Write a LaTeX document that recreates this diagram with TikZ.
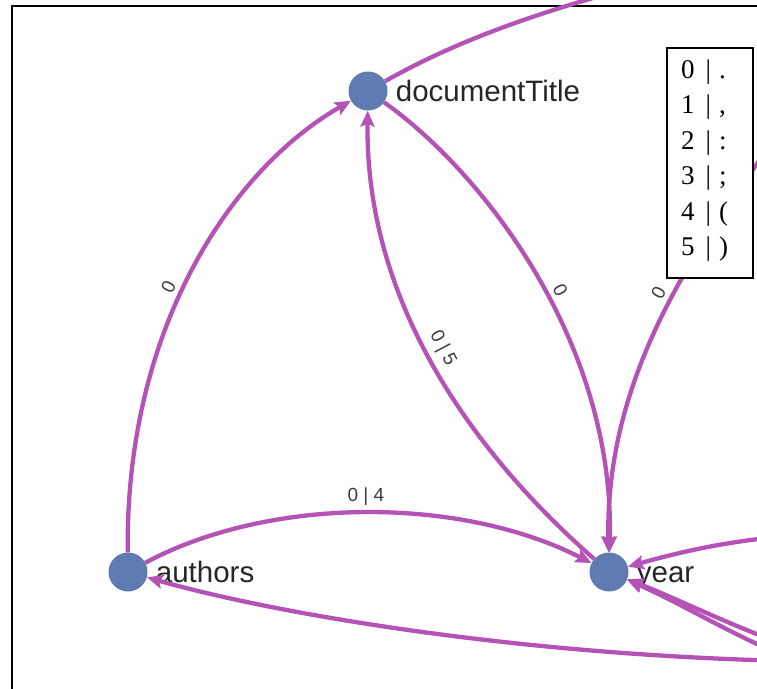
\documentclass[tikz,border=0pt]{standalone}
\usepackage{fontspec}
\setmainfont{Liberation Sans}
\newfontfamily\legendfont{Liberation Serif}
\usetikzlibrary{positioning,arrows.meta}

\definecolor{nodeblue}{RGB}{96,122,178}
\definecolor{linkpurple}{RGB}{180,82,182}
\definecolor{labelgray}{RGB}{60,60,60}

\tikzset{
  entity/.style={circle, fill=nodeblue, minimum size=39pt, inner sep=0pt},
  entitytext/.style={right=8pt of #1, inner sep=0pt, text height=21pt, text depth=0pt,
                     font=\fontsize{29.5}{30}\selectfont, text=black!85},
  link/.style={draw=linkpurple, line width=4.3pt, -{Stealth[length=16pt,width=14pt,inset=3pt]}},
  plainlink/.style={draw=linkpurple, line width=4.3pt},
  linklabel/.style={sloped, above, inner sep=5pt, font=\fontsize{19}{19}\selectfont, text=labelgray},
  legendbox/.style={draw, fill=white, line width=1.5pt, minimum width=86pt, minimum height=230pt},
  legendrow/.style={anchor=base west, inner sep=0pt, font=\legendfont\fontsize{27}{27}\selectfont},
}

\begin{document}
\begin{tikzpicture}[x=1pt, y=-1pt]
\useasboundingbox (0,0) rectangle (757,688);
\clip (0,0) rectangle (757,688);
\draw[line width=2pt] (12,700) -- (12,6) -- (770,6);

\node    (documentTitle)    [entity]    at (368,91)     {};
\node    (authors)          [entity]    at (128,572)    {};
\node    (year)             [entity]    at (609,572)    {};

\node    (documentTitleText)    [entitytext=documentTitle]    {documentTitle};
\node    (authorsText)          [entitytext=authors]          {authors};
\node    (yearText)             [entitytext=year]             {year};

% links that leave the picture end here
\coordinate    (outTop)       at (660,-20);
\coordinate    (outRight)     at (790,120);
\coordinate    (outMid)       at (800,535);
\coordinate    (outLow1)      at (800,650);
\coordinate    (outLow2)      at (800,662);
\coordinate    (outBottom)    at (790,661);

\draw[link]    (authors) .. controls (125,330) and (230,170) .. (documentTitle) node[linklabel, pos=0.45] {0};
\draw[link]    (documentTitle) .. controls (480,170) and (615,340) .. (year) node[linklabel, pos=0.55] {0};
\draw[link]    (year) .. controls (470,450) and (365,300) .. (documentTitle) node[linklabel, pos=0.52] {0 | 5};
\draw[link]    (authors) .. controls (270,496) and (460,496) .. (year) node[linklabel, pos=0.5] {0 | 4};
\draw[plainlink]    (documentTitle) .. controls (440,50) and (520,15) .. (outTop);
\draw[link]    (outRight) .. controls (690,250) and (605,380) .. (year) node[linklabel, pos=0.45] {0};
\draw[link]    (outMid) .. controls (730,540) and (680,552) .. (year);
\draw[link]    (outLow1) .. controls (740,630) and (680,600) .. (year);
\draw[link]    (outLow2) .. controls (740,640) and (685,605) .. (year);
\draw[link]    (outBottom) .. controls (520,655) and (280,615) .. (authors);

% legend
\node    (legend)    [legendbox]    at (710,163)    {};
\foreach \k/\sym in {0/., 1/{,}, 2/:, 3/;, 4/{(}, 5/{)}}
  \node    (key\k)    [legendrow]    at (681,78+35.5*\k)    {\k\hspace{11pt}|\hspace{8pt}\sym};
\end{tikzpicture}
\end{document}
